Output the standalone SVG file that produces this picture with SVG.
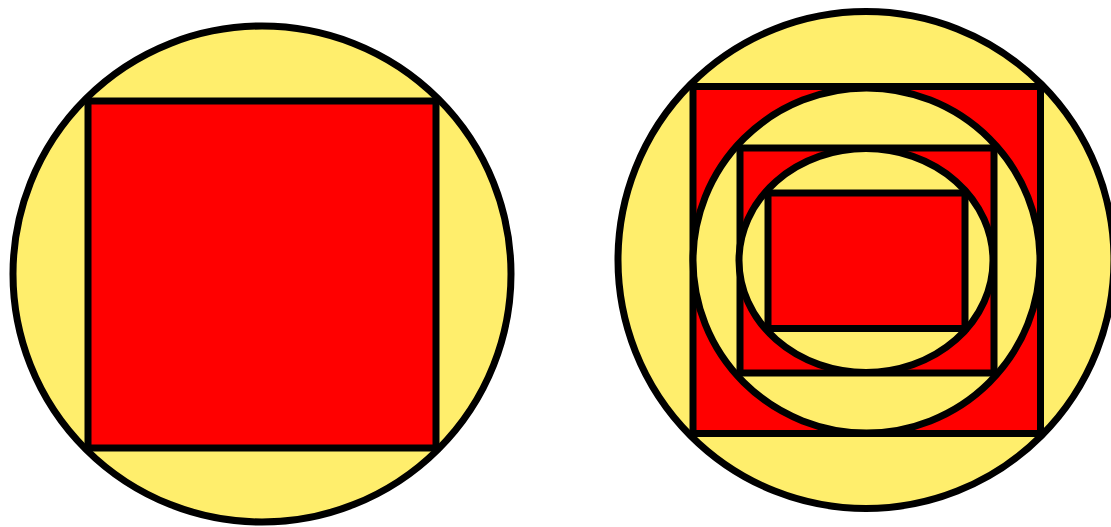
<svg xmlns="http://www.w3.org/2000/svg" width="1111" height="527" viewBox="0 0 1111 527">
<style>
.y{fill:#FFEE6C;stroke:#000;stroke-width:7}
.r{fill:#FF0000;stroke:#000;stroke-width:7}
</style>
<rect width="1111" height="527" fill="#fff"/>
<g id="left">
<ellipse class="y" cx="262" cy="274" rx="249" ry="248"/>
<rect class="r" x="88" y="101" width="348" height="347"/>
</g>
<g id="right">
<ellipse class="y" cx="866" cy="260" rx="248" ry="248.5"/>
<rect class="r" x="693" y="86.5" width="347.5" height="347"/>
<ellipse class="y" cx="866.5" cy="260.5" rx="173.5" ry="172.5"/>
<rect class="r" x="740" y="148" width="254" height="225"/>
<ellipse class="y" cx="866" cy="260.5" rx="127" ry="112"/>
<rect class="r" x="768" y="193" width="197" height="135.5"/>
</g>
</svg>
